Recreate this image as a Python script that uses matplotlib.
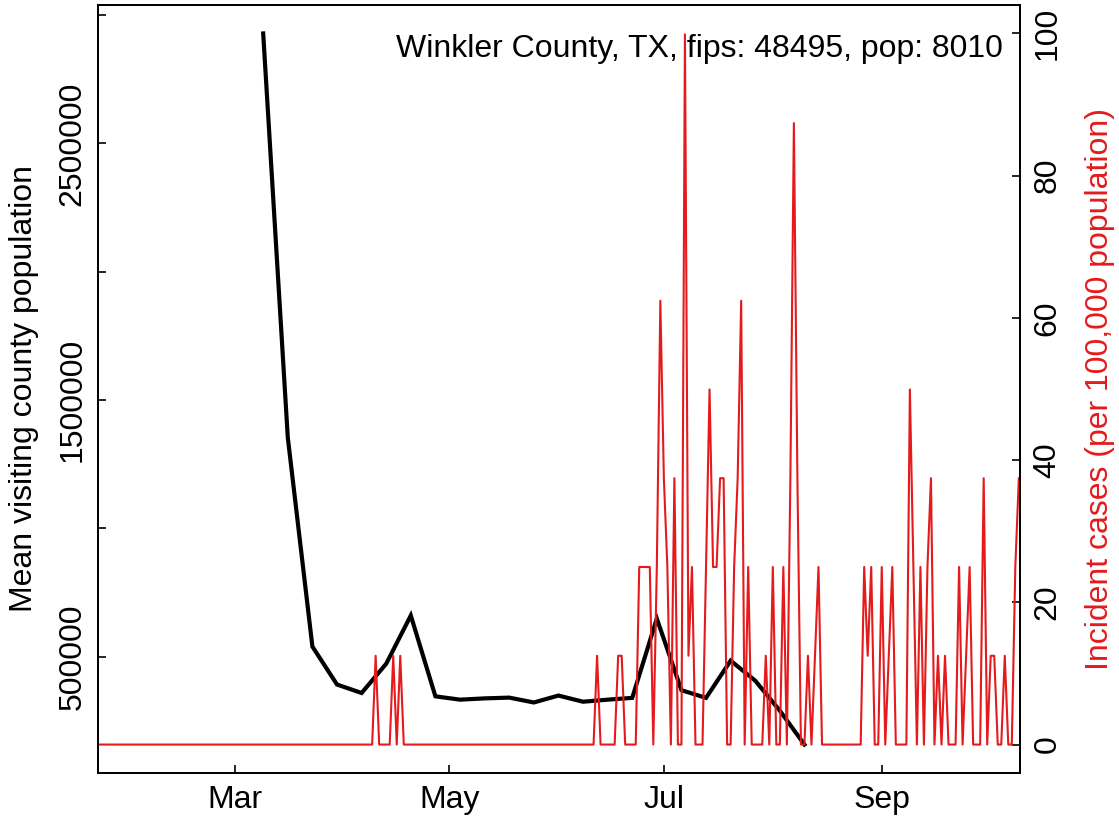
import numpy as np
import pandas as pd
import matplotlib
matplotlib.use("Agg")
import matplotlib.pyplot as plt
import matplotlib.dates as mdates

plt.rcParams["font.family"] = ["Liberation Sans", "DejaVu Sans"]

county = "Winkler County, TX"
fips = 48495
population = 8010

# weekly mean visiting county population (black line)
visitDates = pd.date_range("2020-03-09", "2020-08-10", freq="7D")
visitValues = [2929000, 1354000, 539000, 391000, 358000, 472000, 660000, 345000,
               332000, 337000, 340000, 321000, 348000, 324000, 332000, 339000,
               648000, 369000, 339000, 484000, 406000, 289000, 157000]

# daily new cases, only the days with cases (all other days are 0)
caseDates = ["2020-04-10", "2020-04-15", "2020-04-17", "2020-06-12", "2020-06-18", "2020-06-19",
             "2020-06-24", "2020-06-25", "2020-06-26", "2020-06-27", "2020-06-29", "2020-06-30",
             "2020-07-01", "2020-07-02", "2020-07-04", "2020-07-07", "2020-07-08", "2020-07-09",
             "2020-07-13", "2020-07-14", "2020-07-15", "2020-07-16", "2020-07-17", "2020-07-18",
             "2020-07-21", "2020-07-22", "2020-07-23", "2020-07-25", "2020-07-30", "2020-08-01",
             "2020-08-04", "2020-08-06", "2020-08-07", "2020-08-08", "2020-08-11", "2020-08-13",
             "2020-08-14", "2020-08-27", "2020-08-28", "2020-08-29", "2020-09-01", "2020-09-03",
             "2020-09-04", "2020-09-09", "2020-09-10", "2020-09-12", "2020-09-14", "2020-09-15",
             "2020-09-17", "2020-09-19", "2020-09-23", "2020-09-25", "2020-09-26", "2020-09-30",
             "2020-10-02", "2020-10-03", "2020-10-06", "2020-10-09", "2020-10-10"]
caseCounts = [1, 1, 1, 1, 1, 1,
              2, 2, 2, 2, 2, 5,
              3, 2, 3, 8, 1, 2,
              2, 4, 2, 2, 3, 3,
              2, 3, 5, 2, 1, 2,
              2, 3, 7, 3, 1, 1,
              2, 2, 1, 2, 2, 1,
              2, 4, 2, 2, 2, 3,
              1, 1, 2, 1, 2, 3,
              1, 1, 1, 2, 3]

caseStart = "2020-01-22"
caseEnd = "2020-10-10"

days = pd.date_range(caseStart, caseEnd, freq="D")
cases = pd.Series(0.0, index=days)
cases[pd.to_datetime(caseDates)] = caseCounts
incidence = cases * 100000 / population

red = "#E41A1C"
fontSize = 23

figure = plt.figure(figsize=(11.19, 8.17), dpi=100)
ax = figure.add_axes([98/1119, 1-773/817, (1020-98)/1119, (773-5)/817])
ax.plot(visitDates, visitValues, color="black", linewidth=3.0, solid_joinstyle="miter")

vmin, vmax = min(visitValues), max(visitValues)
span = vmax - vmin
ax.set_ylim(vmin - 0.04*span, vmax + 0.04*span)
ax.set_xlim(pd.Timestamp(caseStart), pd.Timestamp(caseEnd) + pd.Timedelta(hours=8))
yticks = [500000, 1000000, 1500000, 2000000, 2500000, 3000000]
ax.set_yticks(yticks)
ax.set_yticklabels([str(t) if t in (500000, 1500000, 2500000) else "" for t in yticks])
plt.setp(ax.get_yticklabels(), rotation=90, va="center")
ax.xaxis.set_major_locator(mdates.MonthLocator(bymonth=[3, 5, 7, 9]))
ax.xaxis.set_major_formatter(mdates.DateFormatter("%b"))
ax.tick_params(axis="both", direction="in", length=5.8, width=1.2, labelsize=fontSize)
ax.tick_params(axis="x", pad=8.5)
ax.tick_params(axis="y", pad=7.5)
ax.set_ylabel("Mean visiting county population", fontsize=fontSize, va="center")
ax.yaxis.set_label_coords(-0.0808, 0.5)
for spine in ax.spines.values():
    spine.set_linewidth(1.3)

ax2 = ax.twinx()
ax2.plot(incidence.index, incidence.values, color=red, linewidth=1.5)
ax2.set_ylim(-4.0, 104.0)
ax2.set_yticks([0, 20, 40, 60, 80, 100])
plt.setp(ax2.get_yticklabels(), rotation=90, va="center")
ax2.tick_params(axis="y", direction="in", length=5.8, width=1.2, labelsize=fontSize, pad=9)
ax2.set_ylabel("Incident cases (per 100,000 population)", color=red, fontsize=fontSize, va="center")
ax2.yaxis.set_label_coords(1.0868, 0.5)
for spine in ax2.spines.values():
    spine.set_linewidth(1.3)

ax2.text(0.9816, 0.932, "%s, fips: %d, pop: %d" % (county, fips, population),
         transform=ax2.transAxes, ha="right", va="baseline", fontsize=fontSize)

figure.savefig("out.png", dpi=100)
